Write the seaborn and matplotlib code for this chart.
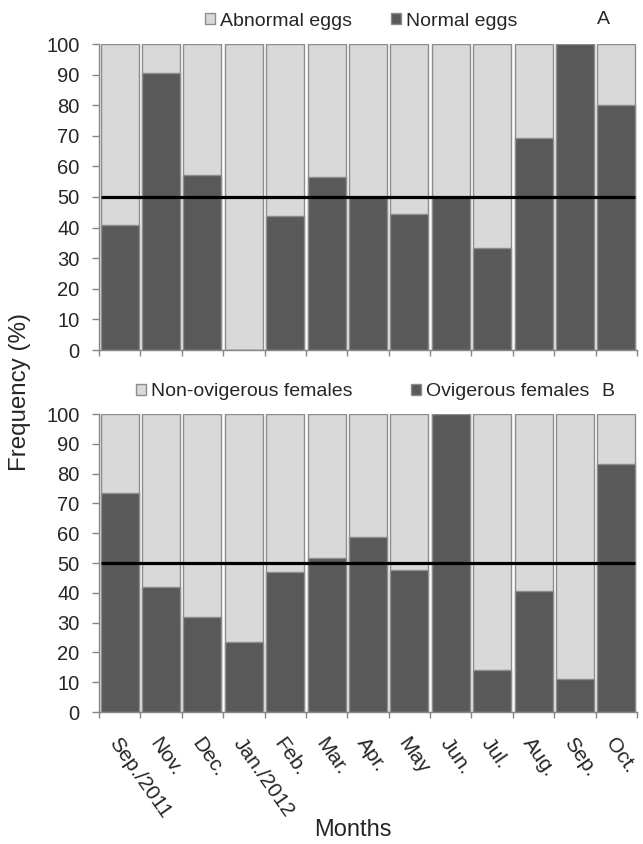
import numpy as np
import matplotlib
matplotlib.use("Agg")
import matplotlib.pyplot as plt
import matplotlib.transforms as mtransforms
import seaborn as sns
from matplotlib.patches import Patch

months = ["Sep./2011", "Nov.", "Dec.", "Jan./2012", "Feb.", "Mar.", "Apr.",
          "May", "Jun.", "Jul.", "Aug.", "Sep.", "Oct."]
normal_eggs = [40.8, 90.6, 57.2, 0.0, 43.8, 56.4, 50.0, 44.6, 50.0, 33.2, 69.4, 100.0, 80.0]
abnormal_eggs = [59.2, 9.4, 42.8, 100.0, 56.2, 43.6, 50.0, 55.4, 50.0, 66.8, 30.6, 0.0, 20.0]
ovigerous = [73.4, 42.1, 31.8, 23.6, 47.1, 51.6, 58.7, 47.5, 100.0, 14.2, 40.7, 11.0, 83.3]
non_ovigerous = [26.6, 57.9, 68.2, 76.4, 52.9, 48.4, 41.3, 52.5, 0.0, 85.8, 59.3, 89.0, 16.7]
yticks = list(range(0, 101, 10))
reference_level = 50

sns.set_style("white")
plt.rcParams["font.family"] = ["Liberation Sans", "DejaVu Sans"]

DARK = "#595959"
LIGHT = "#d9d9d9"
EDGE = "#8c8c8c"
AXC = "#868686"

W, H = 643, 844
fig = plt.figure(figsize=(W / 100, H / 100), dpi=100)
axA = fig.add_axes([99 / W, 1 - 350 / H, 538 / W, 306 / H])
axB = fig.add_axes([99 / W, 1 - 712 / H, 538 / W, 298 / H])


def panel(ax, lower, upper, show_labels):
    total = np.add(lower, upper)
    kw = dict(saturation=1, width=0.92, edgecolor=EDGE, linewidth=1, ax=ax, errorbar=None)
    sns.barplot(x=months, y=total, color=LIGHT, **kw)
    sns.barplot(x=months, y=lower, color=DARK, **kw)
    ax.hlines(reference_level, -0.46, len(months) - 0.54, color="black", lw=2.3, zorder=5)
    ax.set_xlim(-0.5, len(months) - 0.5)
    ax.set_ylim(0, 100)
    ax.set_yticks(yticks)
    ax.set_yticklabels([str(t) for t in yticks])
    ax.set_xlabel("")
    ax.set_ylabel("")
    sns.despine(ax=ax)
    for s in ("left", "bottom"):
        ax.spines[s].set_color(AXC)
        ax.spines[s].set_linewidth(1)
    ax.tick_params(axis="y", length=5, width=1, color=AXC, labelsize=14.5, pad=9, left=True)
    ax.set_xticks(np.arange(-0.5, len(months), 1), minor=True)
    ax.tick_params(axis="x", which="minor", length=4.3, width=1, color=AXC, bottom=True)
    ax.set_xticks(range(len(months)))
    if show_labels:
        ax.set_xticklabels(months, rotation=-55, ha="left", va="center",
                           rotation_mode="anchor", fontsize=15)
        ax.tick_params(axis="x", which="major", length=0, pad=20)
        shift = mtransforms.ScaledTranslation(-7 / 100, 0, fig.dpi_scale_trans)
        for lab in ax.get_xticklabels():
            lab.set_transform(lab.get_transform() + shift)
    else:
        ax.set_xticklabels([])
        ax.tick_params(axis="x", which="major", length=0)


panel(axA, normal_eggs, abnormal_eggs, False)
panel(axB, ovigerous, non_ovigerous, True)

legkw = dict(loc="center", ncol=2, frameon=False, fontsize=14, handlelength=0.52,
             handleheight=0.52, handletextpad=0.26, borderaxespad=0, borderpad=0,
             bbox_transform=fig.transFigure)
fig.legend(handles=[Patch(fc=LIGHT, ec=EDGE, label="Abnormal eggs"),
                    Patch(fc=DARK, ec=EDGE, label="Normal eggs")],
           bbox_to_anchor=(361.5 / W, 1 - 21 / H), columnspacing=2.0, **legkw)
fig.legend(handles=[Patch(fc=LIGHT, ec=EDGE, label="Non-ovigerous females"),
                    Patch(fc=DARK, ec=EDGE, label="Ovigerous females")],
           bbox_to_anchor=(363 / W, 1 - 392 / H), columnspacing=3.0, **legkw)

fig.text(603 / W, 1 - 20 / H, "A", ha="center", va="center", fontsize=14)
fig.text(608 / W, 1 - 391 / H, "B", ha="center", va="center", fontsize=14)
fig.text(20 / W, 1 - 392 / H, "Frequency (%)", rotation=90, ha="center", va="center", fontsize=17.4)
fig.text(353 / W, 1 - 830 / H, "Months", ha="center", va="center", fontsize=17)

fig.savefig("out.png", dpi=100)
